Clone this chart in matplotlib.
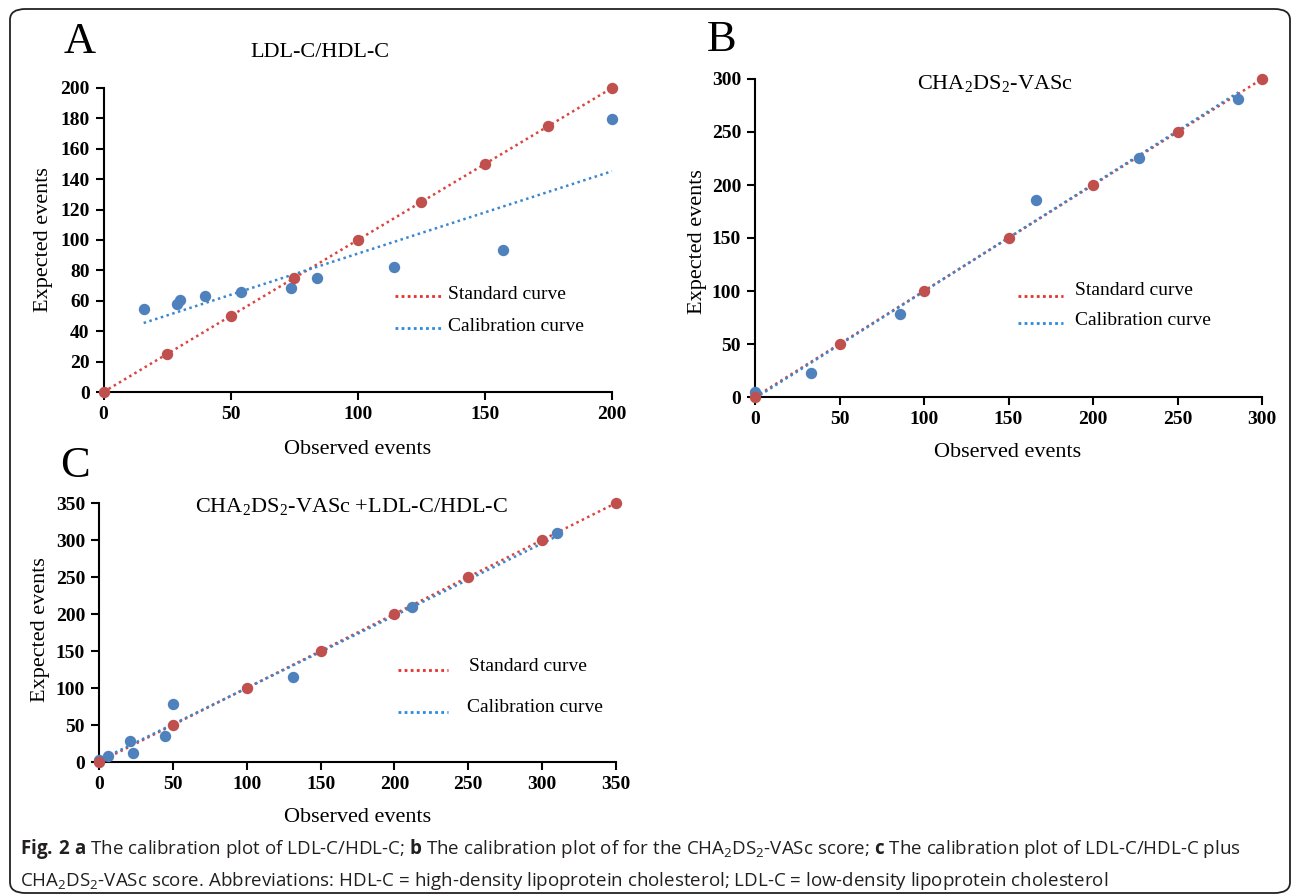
import numpy as np
import matplotlib
matplotlib.use("Agg")
import matplotlib.pyplot as plt
from matplotlib.patches import FancyBboxPatch

# ---------------- data ----------------
# Panel A: LDL-C/HDL-C
a_std_obs = [0, 25, 50, 75, 100, 125, 150, 175, 200]
a_std_exp = [0, 25, 50, 75, 100, 125, 150, 175, 200]
a_cal_obs = [15.8, 28.9, 29.9, 39.9, 53.9, 73.9, 84.0, 114.1, 157.0, 200.0]
a_cal_exp = [54.4, 57.9, 60.5, 63.4, 65.6, 68.6, 74.8, 82.2, 93.3, 179.9]
a_xticks = [0, 50, 100, 150, 200]
a_yticks = [0, 20, 40, 60, 80, 100, 120, 140, 160, 180, 200]

# Panel B: CHA2DS2-VASc
b_std_obs = [0, 50, 100, 150, 200, 250, 300]
b_std_exp = [0, 50, 100, 150, 200, 250, 300]
b_cal_obs = [0, 33, 86, 166, 227, 286]
b_cal_exp = [5, 22.6, 78, 185.5, 225.5, 281.5]
b_xticks = [0, 50, 100, 150, 200, 250, 300]
b_yticks = [0, 50, 100, 150, 200, 250, 300]

# Panel C: CHA2DS2-VASc + LDL-C/HDL-C
c_std_obs = [0, 50, 100, 150, 200, 250, 300, 350]
c_std_exp = [0, 50, 100, 150, 200, 250, 300, 350]
c_cal_obs = [0, 5.9, 20.8, 23.1, 44.8, 50.0, 131.2, 212.0, 309.8]
c_cal_exp = [3, 8.6, 27.9, 12.2, 35.1, 78.4, 115.1, 209.4, 309.2]
c_xticks = [0, 50, 100, 150, 200, 250, 300, 350]
c_yticks = [0, 50, 100, 150, 200, 250, 300, 350]

titles = ["LDL-C/HDL-C",
          r"CHA$_\mathregular{2}$DS$_\mathregular{2}$-VASc",
          r"CHA$_\mathregular{2}$DS$_\mathregular{2}$-VASc +LDL-C/HDL-C"]
letters = ["A", "B", "C"]
xlabel = "Observed events"
ylabel = "Expected events"
legend_labels = ["Standard curve", "Calibration curve"]

# ---------------- style ----------------
plt.rcParams['font.family'] = ['Liberation Serif', 'DejaVu Serif']
plt.rcParams['mathtext.fontset'] = 'custom'
plt.rcParams['mathtext.bf'] = 'Open Sans:bold'
plt.rcParams['mathtext.rm'] = 'Open Sans'

RED_PT = "#C0504D"
BLUE_PT = "#4F81BD"
RED_LN = "#D9453E"
BLUE_LN = "#3A87D0"
RED_LEG = "#E8302A"
BLUE_LEG = "#2A8AE0"
DOT = (0, (1, 1.4))

W, H = 1292, 896
fig = plt.figure(figsize=(W / 100, H / 100), dpi=100)


def ax_at(x0, x1, ytop, ybot):
    return fig.add_axes([x0 / W, 1 - ybot / H, (x1 - x0) / W, (ybot - ytop) / H])


def panel(ax, std_x, std_y, cal_x, cal_y, xt, yt, title, tpos, xlpos, ylpos, legpos):
    ax.set_xlim(xt[0], xt[-1])
    ax.set_ylim(yt[0], yt[-1])
    ax.set_xticks(xt)
    ax.set_yticks(yt)
    for s in ['top', 'right']:
        ax.spines[s].set_visible(False)
    for s in ['left', 'bottom']:
        ax.spines[s].set_linewidth(1.5)
    ax.tick_params(direction='out', length=6, width=1.5, labelsize=14, pad=4)
    for lab in ax.get_xticklabels() + ax.get_yticklabels():
        lab.set_fontweight('bold')
    # standard curve
    ax.plot(std_x, std_y, linestyle=DOT, color=RED_LN, lw=1.8, clip_on=False, zorder=2)
    # calibration curve: least squares line through calibration points
    k, b = np.polyfit(cal_x, cal_y, 1)
    xs = np.array([min(cal_x), max(cal_x)])
    ax.plot(xs, k * xs + b, linestyle=DOT, color=BLUE_LN, lw=1.8, clip_on=False, zorder=2)
    ax.plot(cal_x, cal_y, 'o', color=BLUE_PT, ms=8.2, mec='none', clip_on=False, zorder=3)
    ax.plot(std_x, std_y, 'o', color=RED_PT, ms=8.2, mec='none', clip_on=False, zorder=4)
    ax.text(tpos[0], tpos[1], title, transform=ax.transAxes, ha='center', va='center', fontsize=16)
    ax.set_xlabel(xlabel, fontsize=16)
    ax.set_ylabel(ylabel, fontsize=16)
    ax.xaxis.set_label_coords(*xlpos)
    ax.yaxis.set_label_coords(*ylpos)
    ax.xaxis.label.set_va('center')
    ax.yaxis.label.set_va('center')
    (lx0, lx1, ly1, ly2, tx1, tx2, ty1, ty2) = legpos
    ax.plot([lx0, lx1], [ly1, ly1], transform=ax.transAxes, linestyle=(0, (1, 1.2)),
            color=RED_LEG, lw=2.0, clip_on=False)
    ax.plot([lx0, lx1], [ly2, ly2], transform=ax.transAxes, linestyle=(0, (1, 1.2)),
            color=BLUE_LEG, lw=2.0, clip_on=False)
    ax.text(tx1, ty1, legend_labels[0], transform=ax.transAxes, ha='left', va='center', fontsize=14)
    ax.text(tx2, ty2, legend_labels[1], transform=ax.transAxes, ha='left', va='center', fontsize=14)


axA = ax_at(103.5, 612, 88, 392)
panel(axA, a_std_obs, a_std_exp, a_cal_obs, a_cal_exp, a_xticks, a_yticks, titles[0],
      (0.426, 1.118), (0.5, -0.19), (-0.118, 0.5),
      (0.573, 0.666, 0.316, 0.21, 0.677, 0.677, 0.322, 0.216))

axB = ax_at(755, 1262, 79, 397)
panel(axB, b_std_obs, b_std_exp, b_cal_obs, b_cal_exp, b_xticks, b_yticks, titles[1],
      (0.473, 0.984), (0.499, -0.176), (-0.114, 0.49),
      (0.519, 0.607, 0.318, 0.233, 0.631, 0.631, 0.336, 0.242))

axC = ax_at(99, 616, 503, 762)
panel(axC, c_std_obs, c_std_exp, c_cal_obs, c_cal_exp, c_xticks, c_yticks, titles[2],
      (0.489, 0.985), (0.5, -0.216), (-0.114, 0.51),
      (0.578, 0.675, 0.355, 0.193, 0.716, 0.712, 0.367, 0.212))

# panel letters
for letter, (px, py) in zip(letters, [(80, 42), (722, 40), (75, 466)]):
    fig.text(px / W, 1 - py / H, letter, fontsize=32, ha='center', va='center')

# caption
cap1 = (r"$\mathbf{Fig.\,2}$ $\mathbf{a}$ The calibration plot of LDL-C/HDL-C; $\mathbf{b}$ "
        r"The calibration plot of for the CHA$_\mathregular{2}$DS$_\mathregular{2}$-VASc score; "
        r"$\mathbf{c}$ The calibration plot of LDL-C/HDL-C plus")
cap2 = (r"CHA$_\mathregular{2}$DS$_\mathregular{2}$-VASc score. Abbreviations: HDL-C = high-density "
        r"lipoprotein cholesterol; LDL-C = low-density lipoprotein cholesterol")
fig.text(20 / W, 1 - 849 / H, cap1, fontsize=13.5, family='Open Sans', color='#231F20',
         ha='left', va='center')
fig.text(20 / W, 1 - 881 / H, cap2, fontsize=13.5, family='Open Sans', color='#231F20',
         ha='left', va='center')

# rounded frame
frame = FancyBboxPatch((10 / W, 1 - 893 / H), (1290 - 10) / W, (893 - 9) / H,
                       boxstyle="round,pad=0,rounding_size=0.012",
                       transform=fig.transFigure, fill=False, ec='#222222', lw=1.3)
fig.patches.append(frame)

fig.savefig("out.png", dpi=100)
